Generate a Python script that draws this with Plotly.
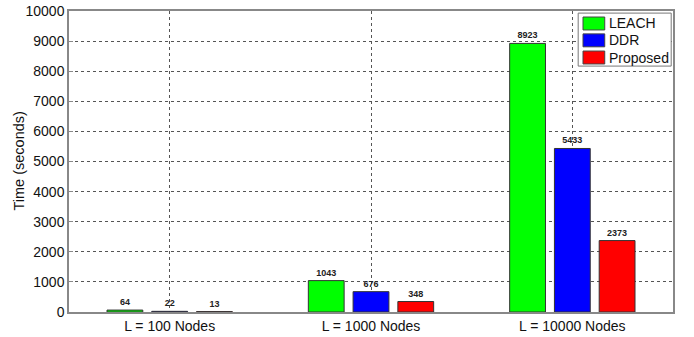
import plotly.graph_objects as go

categories = ["L = 100 Nodes", "L = 1000 Nodes", "L = 10000 Nodes"]
positions = [1, 2, 3]
leach = [64, 1043, 8923]
ddr = [22, 676, 5433]
proposed = [13, 348, 2373]

series = [
    ("LEACH", leach, "#00ff00"),
    ("DDR", ddr, "#0000ff"),
    ("Proposed", proposed, "#ff0000"),
]

fig = go.Figure()
for name, vals, color in series:
    fig.add_trace(go.Bar(
        x=positions, y=vals, name=name, showlegend=False,
        marker=dict(color=color, line=dict(color="#333333", width=1)),
        text=[str(v) for v in vals], textposition="outside",
        textfont=dict(size=9, color="#222222", family="Liberation Sans", weight="bold"),
        cliponaxis=False,
    ))

# Legend box drawn in paper coordinates with wide colour swatches
fig.add_shape(type="rect", xref="paper", yref="paper",
              x0=0.843, x1=0.997, y0=0.817, y1=0.993,
              line=dict(color="#777777", width=1), fillcolor="white", layer="above")
row_tops = [0.980, 0.924, 0.867]
for (name, _, color), top in zip(series, row_tops):
    fig.add_shape(type="rect", xref="paper", yref="paper",
                  x0=0.851, x1=0.887, y0=top - 0.043, y1=top,
                  line=dict(color="#444444", width=1), fillcolor=color, layer="above")
    fig.add_annotation(xref="paper", yref="paper", x=0.890, y=top - 0.0215,
                       text=name, showarrow=False, xanchor="left", yanchor="middle",
                       font=dict(size=14, color="#111111"))

# Y-axis title
fig.add_annotation(xref="paper", yref="paper", x=0, y=0.5, xshift=-51,
                   text="Time (seconds)", textangle=-90, showarrow=False,
                   xanchor="center", yanchor="middle",
                   font=dict(size=14.5, color="#111111"))

fig.update_layout(
    width=694, height=337,
    margin=dict(l=69, r=21, t=11, b=25),
    paper_bgcolor="white", plot_bgcolor="white",
    barmode="group", bargap=0.333, bargroupgap=0.2,
    font=dict(family="Liberation Sans, Arial, sans-serif", size=13, color="#111111"),
)
fig.update_xaxes(
    range=[0.5, 3.5], tickvals=positions, ticktext=categories,
    showgrid=True, griddash="dot", gridcolor="#555555", gridwidth=1,
    showline=True, linecolor="#888888", linewidth=1.5, mirror=True,
    ticks="", tickfont=dict(size=14), zeroline=False, automargin=False,
)
fig.update_yaxes(
    range=[0, 10000], dtick=1000, tickformat="d",
    showgrid=True, griddash="dot", gridcolor="#555555", gridwidth=1,
    showline=True, linecolor="#888888", linewidth=1.5, mirror=True,
    ticks="inside", ticklen=4, tickcolor="#888888",
    tickfont=dict(size=14), zeroline=False, automargin=False,
)

fig.write_html("out.html")
